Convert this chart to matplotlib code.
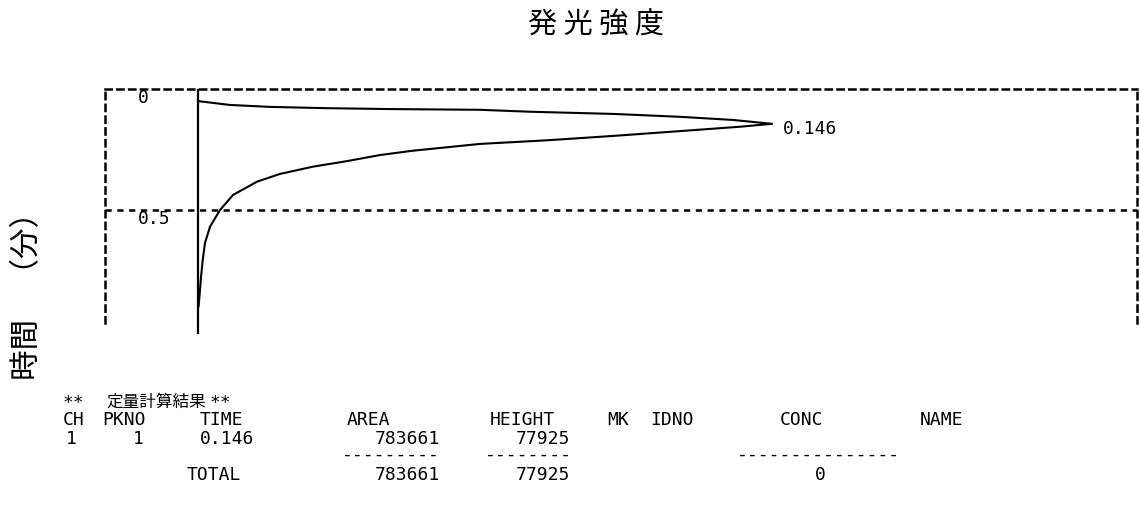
import matplotlib.pyplot as plt

plt.rcParams['font.family'] = ['DejaVu Sans Mono', 'Noto Sans CJK JP']
plt.rcParams['lines.scale_dashes'] = False

W, H = 1140, 514

# 定量計算結果
peak_time = 0.146
peak_height = 77925
peak_area = 783661
conc_total = 0

# 発光曲線: 立ち上がり -> ピーク -> 減衰 (時間[分], 強度)
rise_time = [0.052, 0.068, 0.076, 0.081, 0.085, 0.088, 0.096, 0.105, 0.117, 0.130]
rise_signal = [0, 4340, 9780, 16970, 26070, 38280, 45070, 56340, 65440, 72630]
tail_time = [0.158, 0.176, 0.196, 0.214, 0.229, 0.257, 0.275, 0.300, 0.323,
             0.353, 0.385, 0.440, 0.502, 0.571, 0.638, 0.709, 0.778, 0.833, 0.900]
tail_signal = [73580, 65440, 56340, 47380, 38280, 29190, 24710, 20230, 15610,
               11130, 8010, 4750, 2990, 1630, 950, 640, 410, 270, 80]
trace_span = [0.006, 1.011]   # ベースラインの記録範囲
time_ticks = [0, 0.5]

curve_t = rise_time + [peak_time] + tail_time
curve_s = rise_signal + [peak_height] + tail_signal

header = [("CH", 63), ("PKNO", 102), ("TIME", 200), ("AREA", 347), ("HEIGHT", 490),
          ("MK", 607), ("IDNO", 650), ("CONC", 780), ("NAME", 920)]


def px(x, y):
    return x / W, 1 - y / H


fig = plt.figure(figsize=(W / 100, H / 100), dpi=100)
ax = fig.add_axes([105 / W, 1 - 323 / H, (1137 - 105) / W, (323 - 88.5) / H])

ax.set_xlim(-12626, 127478)
ax.set_ylim(0.969, 0)

dash = (0, (4.5, 4))
lw_frame = 1.8
for side in ("top", "left", "right"):
    ax.spines[side].set_linestyle(dash)
    ax.spines[side].set_linewidth(lw_frame)
ax.spines["bottom"].set_visible(False)
ax.axhline(0.5, color="black", linestyle=dash, linewidth=lw_frame)
ax.set_xticks([])
ax.set_yticks([])

for t in time_ticks:
    ax.text(0.032, t + 0.04, f"{t:g}", transform=ax.get_yaxis_transform(),
            ha="left", va="center", fontsize=13)

# ベースラインと発光曲線
ax.plot([0, 0], trace_span, color="black", linewidth=1.6, clip_on=False)
ax.plot(curve_s, curve_t, color="black", linewidth=1.5, clip_on=False)
ax.annotate(f"{peak_time:.3f}", xy=(peak_height, peak_time), xytext=(8, -4),
            textcoords="offset points", ha="left", va="center", fontsize=13)

fig.text(*px(596, 26), "発 光 強 度", fontsize=21, family="Noto Sans CJK JP",
         ha="center", va="center")
fig.text(*px(28, 288), "時間　（分）", fontsize=22, family="Noto Sans CJK JP",
         rotation=90, ha="center", va="center")

# 結果テーブル
fs = 13
fig.text(*px(63, 403), "**", fontsize=fs, ha="left", va="center")
fig.text(*px(106, 402), "定量計算結果", fontsize=12, family="Noto Sans CJK JP",
         ha="left", va="center")
fig.text(*px(210, 403), "**", fontsize=fs, ha="left", va="center")

for name, x in header:
    fig.text(*px(x, 420), name, fontsize=fs, ha="left", va="center")

fig.text(*px(71, 439), "1", fontsize=fs, ha="center", va="center")
fig.text(*px(138, 439), "1", fontsize=fs, ha="center", va="center")
fig.text(*px(200, 439), f"{peak_time:.3f}", fontsize=fs, ha="left", va="center")
fig.text(*px(440, 439), f"{peak_area}", fontsize=fs, ha="right", va="center")
fig.text(*px(570, 439), f"{peak_height}", fontsize=fs, ha="right", va="center")

fig.text(*px(440, 455), "-" * 9, fontsize=fs, ha="right", va="center")
fig.text(*px(572, 455), "-" * 8, fontsize=fs, ha="right", va="center")
fig.text(*px(737, 455), "-" * 15, fontsize=fs, ha="left", va="center")

fig.text(*px(187, 475), "TOTAL", fontsize=fs, ha="left", va="center")
fig.text(*px(440, 475), f"{peak_area}", fontsize=fs, ha="right", va="center")
fig.text(*px(570, 475), f"{peak_height}", fontsize=fs, ha="right", va="center")
fig.text(*px(820, 475), f"{conc_total}", fontsize=fs, ha="center", va="center")

fig.savefig("out.png", dpi=100, facecolor="white")
